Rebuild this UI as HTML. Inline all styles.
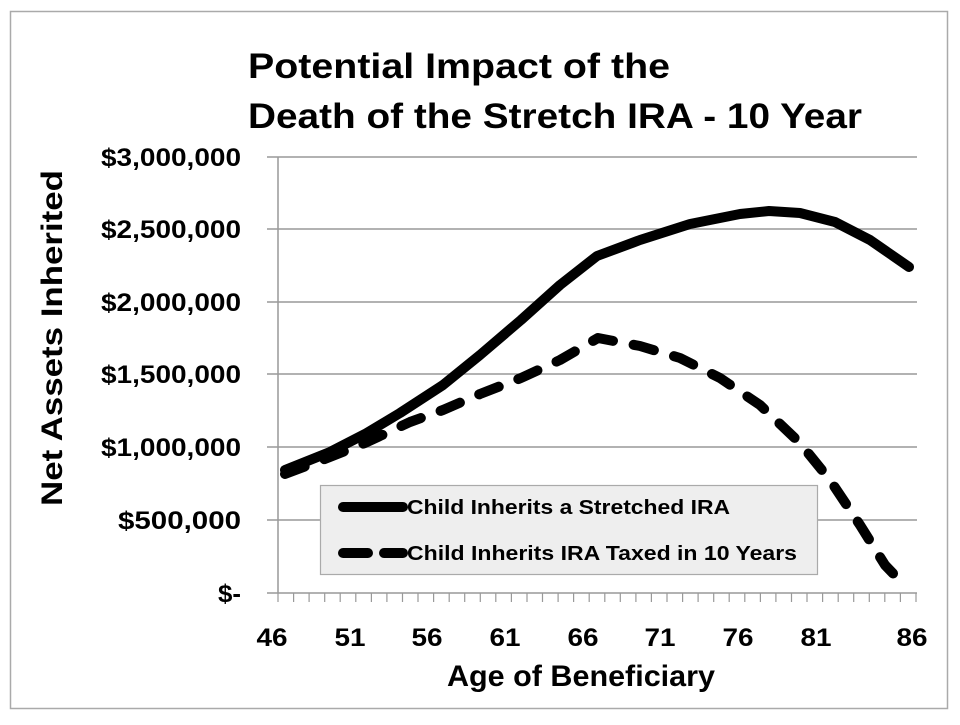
<!DOCTYPE html>
<html><head><meta charset="utf-8"><style>
html,body{margin:0;padding:0;background:#fff;}
svg{display:block;}
text{font-family:"Liberation Sans",sans-serif;font-weight:bold;fill:#000;}
</style></head><body>
<svg width="960" height="725" viewBox="0 0 960 725">
<rect x="10.5" y="11.5" width="937" height="697" fill="#fff" stroke="#aaa" stroke-width="1.5"/>
<text x="248" y="78" font-size="35" textLength="422" lengthAdjust="spacingAndGlyphs">Potential Impact of the</text>
<text x="248" y="128" font-size="35" textLength="614" lengthAdjust="spacingAndGlyphs">Death of the Stretch IRA - 10 Year</text>
<g stroke="#999" stroke-width="1.5">
<line x1="267" y1="157" x2="917" y2="157"/>
<line x1="267" y1="229" x2="917" y2="229"/>
<line x1="267" y1="302" x2="917" y2="302"/>
<line x1="267" y1="374" x2="917" y2="374"/>
<line x1="267" y1="447" x2="917" y2="447"/>
<line x1="267" y1="520" x2="917" y2="520"/>
<line x1="267" y1="593" x2="917" y2="593"/>
<line x1="278" y1="157" x2="278" y2="593"/>
</g>
<path stroke="#999" stroke-width="1.2" fill="none" d="M278,593v9M293.6,593v9M309.1,593v9M324.7,593v9M340.2,593v9M355.8,593v9M371.4,593v9M386.9,593v9M402.5,593v9M418,593v9M433.6,593v9M449.2,593v9M464.7,593v9M480.3,593v9M495.8,593v9M511.4,593v9M527,593v9M542.5,593v9M558.1,593v9M573.6,593v9M589.2,593v9M604.8,593v9M620.3,593v9M635.9,593v9M651.4,593v9M667,593v9M682.6,593v9M698.1,593v9M713.7,593v9M729.2,593v9M744.8,593v9M760.4,593v9M775.9,593v9M791.5,593v9M807,593v9M822.6,593v9M838.2,593v9M853.7,593v9M869.3,593v9M884.8,593v9M900.4,593v9M916,593v9"/>
<g font-size="25" text-anchor="end">
<text x="241" y="166" textLength="140" lengthAdjust="spacingAndGlyphs">$3,000,000</text>
<text x="241" y="238" textLength="140" lengthAdjust="spacingAndGlyphs">$2,500,000</text>
<text x="241" y="311" textLength="140" lengthAdjust="spacingAndGlyphs">$2,000,000</text>
<text x="241" y="383" textLength="140" lengthAdjust="spacingAndGlyphs">$1,500,000</text>
<text x="241" y="456" textLength="140" lengthAdjust="spacingAndGlyphs">$1,000,000</text>
<text x="241" y="529" textLength="123" lengthAdjust="spacingAndGlyphs">$500,000</text>
<text x="241" y="602" textLength="23" lengthAdjust="spacingAndGlyphs">$-</text>
</g>
<text transform="translate(62,338) rotate(-90)" font-size="30" text-anchor="middle" textLength="336" lengthAdjust="spacingAndGlyphs">Net Assets Inherited</text>
<g font-size="25" text-anchor="middle">
<text x="272" y="646" textLength="31" lengthAdjust="spacingAndGlyphs">46</text><text x="350" y="646" textLength="31" lengthAdjust="spacingAndGlyphs">51</text><text x="427" y="646" textLength="31" lengthAdjust="spacingAndGlyphs">56</text>
<text x="505" y="646" textLength="31" lengthAdjust="spacingAndGlyphs">61</text><text x="583" y="646" textLength="31" lengthAdjust="spacingAndGlyphs">66</text><text x="660" y="646" textLength="31" lengthAdjust="spacingAndGlyphs">71</text>
<text x="738" y="646" textLength="31" lengthAdjust="spacingAndGlyphs">76</text><text x="816" y="646" textLength="31" lengthAdjust="spacingAndGlyphs">81</text><text x="912" y="646" textLength="31" lengthAdjust="spacingAndGlyphs">86</text>
</g>
<text x="581" y="686" font-size="30" text-anchor="middle" textLength="268" lengthAdjust="spacingAndGlyphs">Age of Beneficiary</text>
<rect x="320.5" y="485.5" width="497" height="89" fill="#eeeeee" stroke="#aaa" stroke-width="1.2"/>
<line x1="343" y1="507" x2="403" y2="507" stroke="#000" stroke-width="10" stroke-linecap="round"/>
<line x1="343" y1="553" x2="368" y2="553" stroke="#000" stroke-width="10" stroke-linecap="round"/>
<line x1="384" y1="553" x2="403" y2="553" stroke="#000" stroke-width="10" stroke-linecap="round"/>
<text x="407" y="514" font-size="20" textLength="323" lengthAdjust="spacingAndGlyphs">Child Inherits a Stretched IRA</text>
<text x="407" y="560" font-size="20" textLength="390" lengthAdjust="spacingAndGlyphs">Child Inherits IRA Taxed in 10 Years</text>
<polyline fill="none" stroke="#000" stroke-width="10" stroke-linecap="round" stroke-linejoin="round"
points="285,470 330,452 365,434 400,413 443,385 480,355 521,320 560,285 597,256 640,240 690,224 740,214 769,211 800,213 835,222 870,240 909,267"/>
<polyline fill="none" stroke="#000" stroke-width="10" stroke-linecap="round" stroke-linejoin="round" stroke-dasharray="21 21"
points="285,474 330,457 365,443 410,422 443,410 480,394 521,378 560,360 598,338 640,346 680,358 720,378 760,405 800,443 830,480 860,525 885,565 904,585"/>
</svg>
</body></html>
